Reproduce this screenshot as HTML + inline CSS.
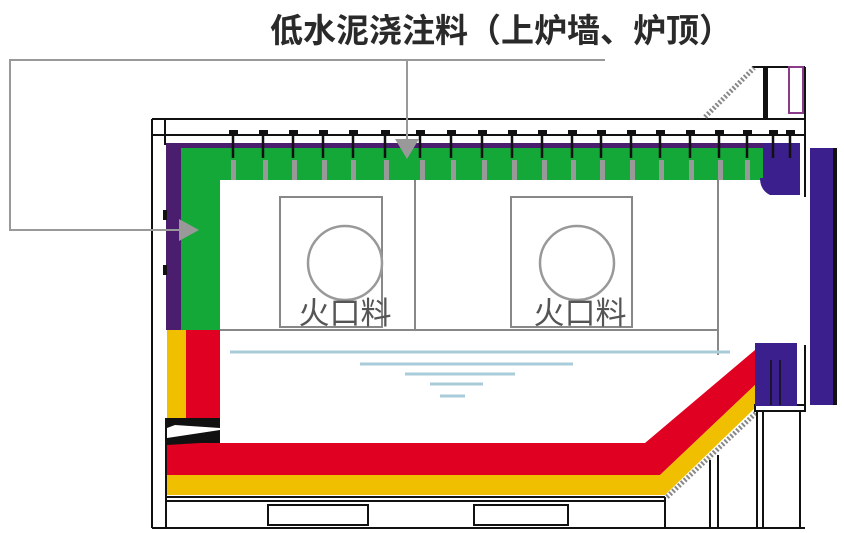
<!DOCTYPE html>
<html><head><meta charset="utf-8"><style>
body{margin:0;background:#fff;}
svg{display:block;}
</style></head><body>
<svg width="844" height="533" viewBox="0 0 844 533" xmlns="http://www.w3.org/2000/svg">
<rect width="844" height="533" fill="#fff"/>
<text x="501" y="42" font-family="Liberation Sans, Noto Sans CJK SC, sans-serif" font-size="33" font-weight="bold" fill="#2a2a2a" text-anchor="middle">低水泥浇注料（上炉墙、炉顶）</text>
<!-- outer frame -->
<g stroke="#111" fill="none" stroke-width="2">
<line x1="152" y1="119" x2="805" y2="119"/>
<line x1="152" y1="135" x2="805" y2="135"/>
<line x1="152" y1="119" x2="152" y2="528"/>
<line x1="165" y1="119" x2="165" y2="145"/>
<line x1="805" y1="67" x2="805" y2="197"/>
<line x1="752" y1="67" x2="805" y2="67"/>
<line x1="152" y1="528" x2="805" y2="528"/>
</g>
<rect x="763" y="68" width="5" height="50" fill="#111"/>
<rect x="789" y="67" width="14" height="46" fill="#fff" stroke="#8a3b8a" stroke-width="2"/>
<line x1="705" y1="117" x2="754" y2="68" stroke="#888" stroke-width="5" stroke-dasharray="2 2"/>
<rect x="166" y="143" width="600" height="5" fill="#4b1d6e"/>
<rect x="166" y="143" width="16" height="187" fill="#4b1d6e"/>
<rect x="163" y="210" width="4" height="10" fill="#111"/>
<rect x="163" y="265" width="4" height="10" fill="#111"/>
<rect x="181" y="148" width="583" height="32" fill="#14a838"/>
<rect x="181" y="148" width="39" height="182" fill="#14a838"/>
<path d="M763,143 H800 V195 H770 Q760,190 760,178 H763 Z" fill="#3b1f8c"/>
<g fill="#999">
<rect x="231" y="160" width="5" height="20"/><rect x="263" y="160" width="5" height="20"/><rect x="292" y="160" width="5" height="20"/><rect x="322" y="160" width="5" height="20"/><rect x="351" y="160" width="5" height="20"/><rect x="384" y="160" width="5" height="20"/><rect x="420" y="160" width="5" height="20"/><rect x="451" y="160" width="5" height="20"/><rect x="482" y="160" width="5" height="20"/><rect x="512" y="160" width="5" height="20"/><rect x="542" y="160" width="5" height="20"/><rect x="571" y="160" width="5" height="20"/><rect x="600" y="160" width="5" height="20"/><rect x="630" y="160" width="5" height="20"/><rect x="659" y="160" width="5" height="20"/><rect x="689" y="160" width="5" height="20"/><rect x="718" y="160" width="5" height="20"/><rect x="745" y="160" width="5" height="20"/>
</g>
<g stroke="#111" stroke-width="2.5">
<path d="M233,132V158M263,132V158M293,132V158M323,132V158M353,132V158M385,132V158M420,132V158M451,132V158M482,132V158M512,132V158M542,132V158M572,132V158M601,132V158M631,132V158M660,132V158M690,132V158M719,132V158M747,132V158M773,132V158M790,132V158"/>
</g>
<g fill="#111">
<rect x="229" y="130" width="9" height="4"/><rect x="259" y="130" width="9" height="4"/><rect x="289" y="130" width="9" height="4"/><rect x="319" y="130" width="9" height="4"/><rect x="349" y="130" width="9" height="4"/><rect x="381" y="130" width="9" height="4"/><rect x="416" y="130" width="9" height="4"/><rect x="447" y="130" width="9" height="4"/><rect x="478" y="130" width="9" height="4"/><rect x="508" y="130" width="9" height="4"/><rect x="538" y="130" width="9" height="4"/><rect x="568" y="130" width="9" height="4"/><rect x="597" y="130" width="9" height="4"/><rect x="627" y="130" width="9" height="4"/><rect x="656" y="130" width="9" height="4"/><rect x="686" y="130" width="9" height="4"/><rect x="715" y="130" width="9" height="4"/><rect x="743" y="130" width="9" height="4"/><rect x="769" y="130" width="9" height="4"/><rect x="786" y="130" width="9" height="4"/>
</g>
<rect x="810" y="148" width="27" height="257" fill="#3b1f8c"/>
<rect x="833" y="148" width="4" height="257" fill="#111"/>
<g stroke="#888" stroke-width="2" fill="none">
<line x1="415" y1="180" x2="415" y2="330"/>
<line x1="718" y1="180" x2="718" y2="355"/>
<line x1="220" y1="330" x2="718" y2="330"/>
<rect x="280" y="197" width="102" height="130"/>
<rect x="511" y="197" width="121" height="130"/>
</g>
<circle cx="345" cy="263" r="37" fill="none" stroke="#999" stroke-width="2.5"/>
<circle cx="577" cy="263" r="37" fill="none" stroke="#999" stroke-width="2.5"/>
<text x="345" y="324" font-family="Liberation Sans, Noto Sans CJK SC, sans-serif" font-size="31" fill="#555" text-anchor="middle">火口料</text>
<text x="580" y="324" font-family="Liberation Sans, Noto Sans CJK SC, sans-serif" font-size="31" fill="#555" text-anchor="middle">火口料</text>
<g stroke="#a9ccda" stroke-width="3">
<line x1="230" y1="352" x2="730" y2="352"/>
<line x1="360" y1="364" x2="573" y2="364"/>
<line x1="405" y1="374" x2="515" y2="374"/>
<line x1="430" y1="384" x2="483" y2="384"/>
<line x1="440" y1="396" x2="465" y2="396"/>
</g>
<rect x="167" y="330" width="20" height="88" fill="#f0c000"/>
<rect x="186" y="330" width="34" height="88" fill="#e00022"/>
<path d="M167,418 H220 V428 L175,425 L167,428 Z" fill="#111"/>
<path d="M167,438 L220,430 V445 L167,450 Z" fill="#111"/>
<polygon points="167,445 200,443 645,443 755,350 755,385 660,475 167,475" fill="#e00022"/>
<polygon points="167,475 660,475 755,385 755,408 665,495 167,495" fill="#f0c000"/>
<line x1="667" y1="497" x2="757" y2="412" stroke="#888" stroke-width="5" stroke-dasharray="2 2"/>
<g stroke="#111" stroke-width="2" fill="none">
<line x1="167" y1="497" x2="665" y2="497"/>
<line x1="167" y1="501" x2="665" y2="501"/>
<line x1="166" y1="418" x2="166" y2="528"/>
<rect x="268" y="505" width="100" height="20"/>
<rect x="474" y="505" width="94" height="20"/>
<line x1="665" y1="497" x2="665" y2="528"/>
<line x1="710" y1="460" x2="710" y2="528"/>
<line x1="718" y1="455" x2="718" y2="528"/>
<line x1="757" y1="412" x2="757" y2="528"/>
<line x1="763" y1="412" x2="763" y2="528"/>
<line x1="800" y1="410" x2="800" y2="528"/>
<line x1="805" y1="345" x2="805" y2="410"/>
<rect x="755" y="405" width="50" height="6"/>
</g>
<rect x="755" y="343" width="42" height="63" fill="#3b1f8c"/>
<g stroke="#111" stroke-width="1.5"><line x1="771" y1="360" x2="771" y2="405"/><line x1="780" y1="360" x2="780" y2="405"/></g>
<!-- leader lines on top -->
<g stroke="#999" stroke-width="2" fill="none">
<polyline points="605,60 10,60 10,230 180,230"/>
<line x1="407" y1="60" x2="407" y2="142"/>
</g>
<polygon points="179,219 179,241 199,230" fill="#999"/>
<polygon points="395,139 419,139 407,159" fill="#999"/>
</svg>
</body></html>
